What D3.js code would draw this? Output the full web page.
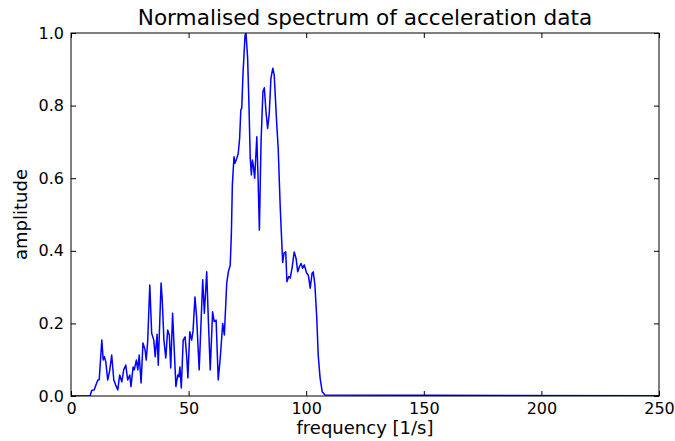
<!DOCTYPE html>
<html>
<head>
<meta charset="utf-8">
<script src="https://cdn.jsdelivr.net/npm/d3@7"></script>
<style>
  body { margin: 0; background: #fff; }
  svg { display: block; font-family: "DejaVu Sans", sans-serif; }
</style>
</head>
<body>
<div id="chart"></div>
<script>
// spectrum (frequency in 1/s, normalised amplitude)
var freq = [0, 8.1, 8.8, 9.9, 10.6, 11.4, 12.0, 13.1, 13.7, 14.2, 14.8, 15.6, 16.5, 17.3, 18.2, 19.0, 19.9,
    20.7, 21.6, 22.4, 23.3, 24.1, 25.0, 25.5, 26.4, 26.9, 27.8, 28.4, 29.0, 29.8, 30.6, 31.5, 32.0, 32.6,
    33.5, 34.3, 35.2, 35.8, 36.6, 37.1, 38.3, 38.8, 39.5, 40.3, 41.1, 41.8, 42.4, 43.2, 43.9, 44.6, 45.4,
    45.9, 46.3, 46.9, 47.7, 48.5, 49.2, 49.7, 50.5, 51.3, 51.9, 52.7, 53.4, 54.5, 56.0, 56.7, 57.7, 58.4,
    59.2, 60.2, 60.9, 61.7, 62.6, 63.5, 64.5, 65.2, 66.2, 66.9, 67.7, 68.2, 68.6, 69.3, 69.7, 70.5, 71.1,
    71.7, 72.2, 72.6, 73.1, 74.0, 74.4, 75.1, 75.7, 76.2, 76.7, 77.1, 77.5, 78.1, 79.0, 79.5, 80.1, 80.8,
    81.6, 82.2, 82.9, 83.6, 84.3, 85.0, 85.8, 86.4, 87.5, 88.1, 88.9, 89.6, 90.0, 90.6, 91.3, 91.8, 92.6,
    93.2, 94.0, 94.9, 95.7, 96.4, 97.1, 97.8, 98.5, 99.2, 100.2, 100.9, 101.7, 102.5, 103.0, 103.7, 104.5,
    105.1, 105.9, 106.8, 108.0, 150, 250];
var amp = [0, 0, 0.015, 0.017, 0.03, 0.044, 0.045, 0.154, 0.099, 0.108, 0.094, 0.044, 0.072, 0.113, 0.044, 0.03, 0.017,
    0.058, 0.039, 0.072, 0.085, 0.044, 0.058, 0.026, 0.08, 0.072, 0.099, 0.072, 0.113, 0.036, 0.146, 0.127, 0.099, 0.15,
    0.306, 0.173, 0.154, 0.108, 0.17, 0.085, 0.311, 0.264, 0.154, 0.105, 0.182, 0.168, 0.077, 0.228, 0.127, 0.026, 0.058,
    0.053, 0.08, 0.022, 0.154, 0.163, 0.108, 0.05, 0.177, 0.154, 0.18, 0.273, 0.218, 0.072, 0.32, 0.228, 0.342, 0.209,
    0.072, 0.232, 0.205, 0.209, 0.044, 0.108, 0.2, 0.168, 0.31, 0.342, 0.36, 0.45, 0.581, 0.659, 0.641, 0.655, 0.668,
    0.71, 0.788, 0.793, 0.884, 0.994, 1.0, 0.93, 0.793, 0.655, 0.609, 0.65, 0.636, 0.6, 0.714, 0.609, 0.457, 0.70,
    0.838, 0.849, 0.783, 0.737, 0.779, 0.875, 0.903, 0.884, 0.746, 0.682, 0.53, 0.425, 0.368, 0.394, 0.397, 0.315, 0.329,
    0.325, 0.353, 0.397, 0.379, 0.342, 0.356, 0.365, 0.352, 0.361, 0.338, 0.333, 0.297, 0.338, 0.342, 0.306, 0.214,
    0.113, 0.05, 0.012, 0.003, 0.002, 0.001];
var xTicks = [0, 50, 100, 150, 200, 250];
var yTicks = [0.0, 0.2, 0.4, 0.6, 0.8, 1.0];

var totalW = 675, totalH = 441;
var margin = { top: 33, right: 16, bottom: 45, left: 71 },
    width = totalW - margin.left - margin.right,
    height = totalH - margin.top - margin.bottom;

var svg = d3.select("#chart").append("svg")
    .attr("width", totalW)
    .attr("height", totalH);

var g = svg.append("g")
    .attr("transform", "translate(" + margin.left + "," + margin.top + ")");

var x = d3.scaleLinear().domain([0, 250]).range([0, width]);
var y = d3.scaleLinear().domain([0, 1]).range([height, 0]);

var points = freq.map(function (f, i) { return [f, amp[i]]; });

// clip so the line doesn't run over the frame
g.append("clipPath").attr("id", "clip")
    .append("rect").attr("width", width).attr("height", height);

var line = d3.line()
    .x(function (d) { return x(d[0]); })
    .y(function (d) { return y(d[1]); });

g.append("path")
    .datum(points)
    .attr("clip-path", "url(#clip)")
    .attr("fill", "none")
    .attr("stroke", "#0000ff")
    .attr("stroke-width", 1.5)
    .attr("stroke-linejoin", "round")
    .attr("d", line);

// axes, ticks pointing inwards on all four sides
function styleAxis(sel, showLabels) {
    sel.select(".domain").remove();
    sel.selectAll(".tick line").attr("stroke", "#000").attr("stroke-width", 1);
    sel.selectAll(".tick text")
        .attr("fill", "#000")
        .style("font-size", "16px")
        .style("font-family", "DejaVu Sans, sans-serif");
    if (!showLabels) sel.selectAll(".tick text").remove();
}

g.append("g")
    .attr("transform", "translate(0," + height + ")")
    .call(d3.axisBottom(x).tickValues(xTicks).tickSize(-5).tickPadding(7).tickFormat(d3.format("d")))
    .call(styleAxis, true);
g.append("g")
    .call(d3.axisTop(x).tickValues(xTicks).tickSize(-5))
    .call(styleAxis, false);
g.append("g")
    .call(d3.axisLeft(y).tickValues(yTicks).tickSize(-5).tickPadding(7).tickFormat(d3.format(".1f")))
    .call(styleAxis, true);
g.append("g")
    .attr("transform", "translate(" + width + ",0)")
    .call(d3.axisRight(y).tickValues(yTicks).tickSize(-5))
    .call(styleAxis, false);

// frame
g.append("rect")
    .attr("width", width)
    .attr("height", height)
    .attr("fill", "none")
    .attr("stroke", "#000")
    .attr("stroke-width", 1);

// title and labels
svg.append("text")
    .attr("x", margin.left + width / 2)
    .attr("y", 25)
    .attr("text-anchor", "middle")
    .style("font-size", "21.6px")
    .text("Normalised spectrum of acceleration data");

svg.append("text")
    .attr("x", margin.left + width / 2)
    .attr("y", 433.5)
    .attr("text-anchor", "middle")
    .style("font-size", "18px")
    .text("frequency [1/s]");

svg.append("text")
    .attr("transform", "translate(27," + (margin.top + height / 2) + ") rotate(-90)")
    .attr("text-anchor", "middle")
    .style("font-size", "18px")
    .text("amplitude");
</script>
</body>
</html>
